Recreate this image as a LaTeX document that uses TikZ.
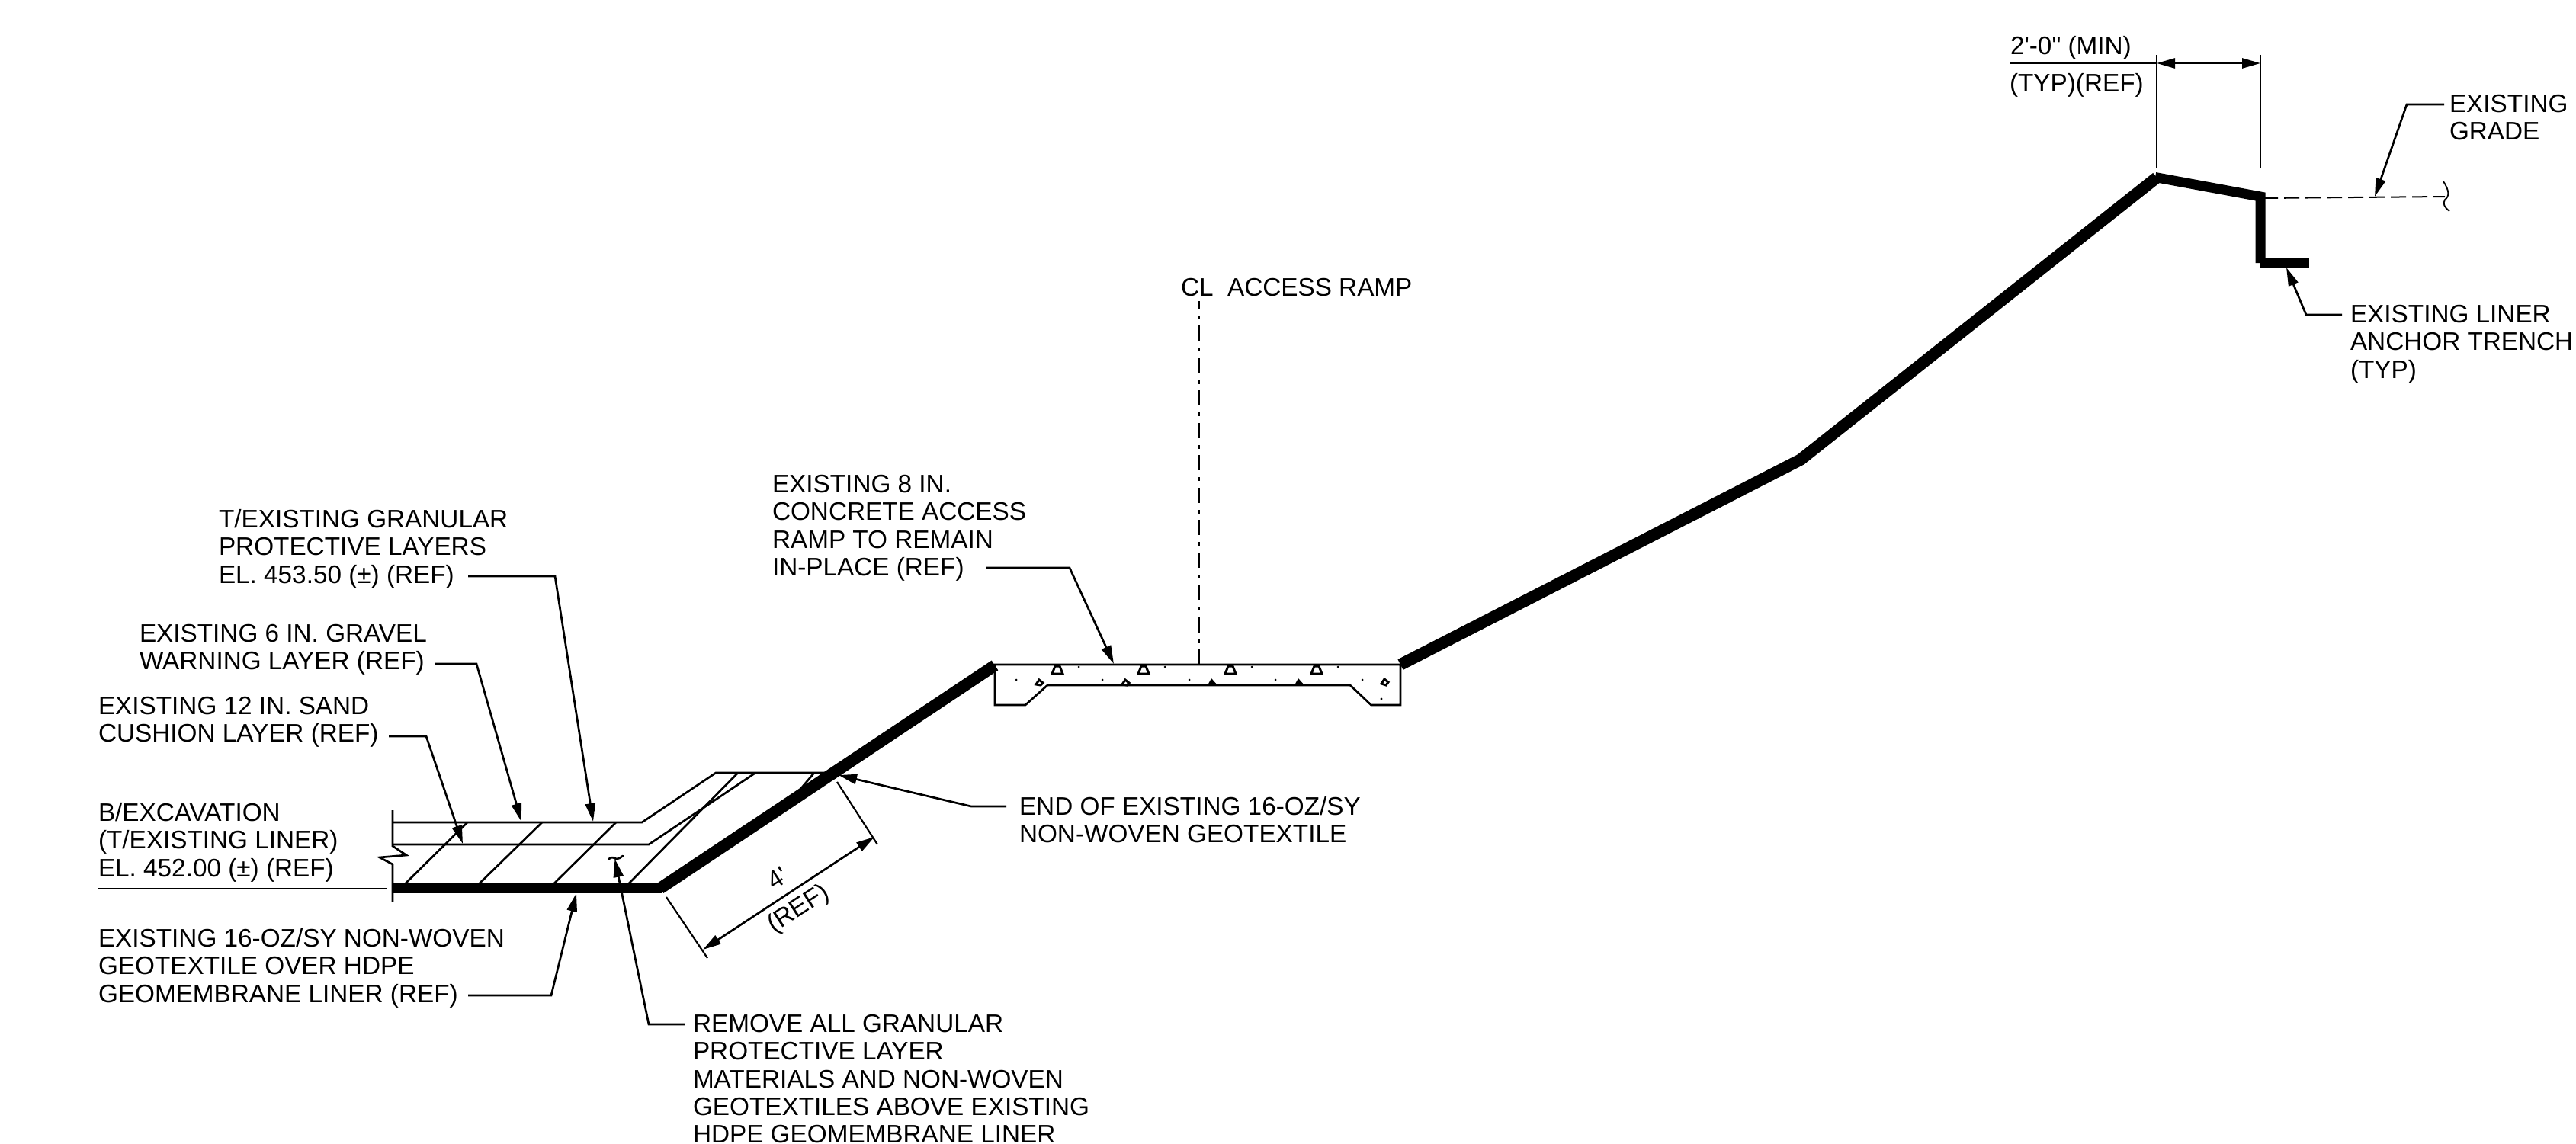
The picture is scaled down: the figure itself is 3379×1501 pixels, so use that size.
\documentclass[tikz,border=0pt]{standalone}
\usepackage{fontspec}
\newfontfamily\drawfont{Liberation Sans}
\usetikzlibrary{arrows.meta}
\tikzset{
  x=1pt,y=-1pt,
  note/.style={inner sep=0pt,outer sep=0pt,anchor=north west,yshift=23.5pt,align=left,
    font=\drawfont\fontsize{33.3}{36.2}\selectfont,execute at begin node={\rule{0pt}{24pt}}},
  dimtxt/.style={inner sep=0pt,outer sep=0pt,font=\drawfont\fontsize{33.3}{36.2}\selectfont,rotate=33},
  baseliner/.style={line width=13pt,line join=miter,line cap=butt},
  slopeliner/.style={line width=15.5pt,line join=miter,line cap=butt},
  fine/.style={line width=2.7pt,line join=miter},
  lead/.style={line width=2.7pt,line join=miter,-{Stealth[length=24pt,width=13pt,inset=0pt]}},
  dimline/.style={line width=2.7pt,{Stealth[length=24pt,width=13pt,inset=0pt]}-{Stealth[length=24pt,width=13pt,inset=0pt]}},
  ext/.style={line width=2.2pt},
  tri/.style={line width=3pt,fill=white},
  dotmark/.style={fill=black,draw=none}
}
\begin{document}
\begin{tikzpicture}
\useasboundingbox (0,0) rectangle (3379,1501);

% notes
\node[note] (ngran) at (287,692) {T/EXISTING GRANULAR\\PROTECTIVE LAYERS\\EL. 453.50 (±) (REF)};
\node[note] (ngrav) at (183,843) {EXISTING 6 IN. GRAVEL\\WARNING LAYER (REF)};
\node[note] (nsand) at (129,938) {EXISTING 12 IN. SAND\\CUSHION LAYER (REF)};
\node[note] (nexc) at (129,1077) {B/EXCAVATION\\(T/EXISTING LINER)\\EL. 452.00 (±) (REF)};
\node[note] (ngeo) at (129,1242) {EXISTING 16-OZ/SY NON-WOVEN\\GEOTEXTILE OVER HDPE\\GEOMEMBRANE LINER (REF)};
\node[note] (nrem) at (909,1355) {REMOVE ALL GRANULAR\\PROTECTIVE LAYER\\MATERIALS AND NON-WOVEN\\GEOTEXTILES ABOVE EXISTING\\HDPE GEOMEMBRANE LINER};
\node[note] (nramp) at (1013,647) {EXISTING 8 IN.\\CONCRETE ACCESS\\RAMP TO REMAIN\\IN-PLACE (REF)};
\node[note] (nend) at (1337,1069) {END OF EXISTING 16-OZ/SY\\NON-WOVEN GEOTEXTILE};
\node[note] (ncl) at (1549,388) {CL\ \ ACCESS RAMP};
\node[note] (nmin) at (2637,71) {2'-0" (MIN)};
\node[note] (ntyp) at (2636,120) {(TYP)(REF)};
\node[note] (ngrade) at (3213,148) {EXISTING\\GRADE};
\node[note] (ntrench) at (3083,424) {EXISTING LINER\\ANCHOR TRENCH\\(TYP)};
\node[dimtxt] (nfour) at (1020,1152) {4'};
\node[dimtxt] (nrefd) at (1048,1193) {(REF)};

% coordinates for connectors
\coordinate (a1) at (614,756); \coordinate (a2) at (728,756); \coordinate (a3) at (778,1078);
\coordinate (b1) at (571,871); \coordinate (b2) at (625,871); \coordinate (b3) at (684,1078);
\coordinate (c1) at (510,966); \coordinate (c2) at (559,966); \coordinate (c3) at (607,1107);
\coordinate (d1) at (129,1166); \coordinate (d2) at (507,1166);
\coordinate (e1) at (614,1306); \coordinate (e2) at (723,1306); \coordinate (e3) at (756,1172);
\coordinate (f1) at (898,1344); \coordinate (f2) at (851,1344); \coordinate (f3) at (806.5,1127);
\coordinate (g1) at (1293,745); \coordinate (g2) at (1403,745); \coordinate (g3) at (1461,871);
\coordinate (h0) at (1320,1058); \coordinate (h1) at (1274,1058); \coordinate (h2) at (1100,1017);
\coordinate (i1) at (3206,137); \coordinate (i2) at (3157,137); \coordinate (i3) at (3115,258);
\coordinate (j1) at (3072,413); \coordinate (j2) at (3025,413); \coordinate (j3) at (2999,351);
\coordinate (cl1) at (1572,872); \coordinate (cl2) at (1572,395);

% layers
\draw[fine] (515,1079) -- (842,1079) -- (939,1014) -- (1086,1014);
\draw[fine] (515,1108) -- (851,1108) -- (991,1014);
\draw[fine] (532,1159) -- (613,1079);
\draw[fine] (629,1159) -- (711,1079);
\draw[fine] (727,1159) -- (808,1079);
\draw[fine] (825,1159) -- (968,1014);
\draw[fine] (1036,1052) -- (1068,1014);
\draw[fine] (515,1063) -- (515,1110) -- (533,1122) -- (498,1125) -- (515,1134) -- (515,1183);
\draw[fine,line cap=round] (798,1128) .. controls (803,1122) and (806,1127) .. (809,1127) .. controls (812,1127) and (814,1125) .. (817,1123);

% ramp
\draw[fine] (1305,872) -- (1837,872) -- (1837,925) -- (1798.5,925) -- (1771,899) -- (1374,899) -- (1345,925) -- (1305,925) -- cycle;
\foreach \tx in {1387,1500,1614,1727}
  \draw[tri] (\tx-3,874) -- (\tx+3,874) -- (\tx+7,884) -- (\tx-7,884) -- cycle;
\foreach \tx in {1363,1476}
  \draw[tri] (\tx,892) -- (\tx+5,896) -- (\tx+2,899) -- (\tx-4,898) -- cycle;
\foreach \tx in {1590,1704}
  \fill (\tx-1,890) -- (\tx+7,899) -- (\tx-6,899) -- cycle;
\draw[tri] (1816,891) -- (1821,895) -- (1818,899) -- (1812,897) -- cycle;
\foreach \tx in {1415,1528,1642,1755} \fill[dotmark] (\tx,875) circle (1.5);
\foreach \tx in {1333,1446,1560,1673,1787} \fill[dotmark] (\tx,892) circle (1.5);
\fill[dotmark] (1812,917) circle (1.6);

% thick liner
\draw[baseliner] (515,1165.5) -- (869,1165.5);
\draw[slopeliner] (866,1165.5) -- (1305,873);
\draw[slopeliner] (1837,872) -- (2362,603) -- (2829,233);
\draw[baseliner] (2827,232.5) -- (2965,258) -- (2965,345);
\draw[baseliner] (2965,344.5) -- (3029,344.5);

% grade
\draw[line width=2pt,dash pattern=on 20pt off 8pt] (2968,260) -- (3207,258);
\draw[line width=1.8pt] (3205,238) .. controls (3213,250) and (3213,258) .. (3207,262) .. controls (3204,267) and (3206,272) .. (3213,277);

% connectors
\draw[lead] (a1) -- (a2) -- (a3);
\draw[lead] (b1) -- (b2) -- (b3);
\draw[lead] (c1) -- (c2) -- (c3);
\draw[fine] (d1) -- (d2);
\draw[lead] (e1) -- (e2) -- (e3);
\draw[lead] (f1) -- (f2) -- (f3);
\draw[lead] (g1) -- (g2) -- (g3);
\draw[lead] (h0) -- (h1) -- (h2);
\draw[lead] (i1) -- (i2) -- (i3);
\draw[lead] (j1) -- (j2) -- (j3);
\draw[line width=3pt,dash pattern=on 20pt off 8.5pt on 5pt off 9pt] (cl1) -- (cl2);

% dimension 2'-0"
\coordinate (p1) at (2829,72); \coordinate (p2) at (2829,220);
\coordinate (q1) at (2965,72); \coordinate (q2) at (2965,220);
\draw[ext] (p1) -- (p2);
\draw[ext] (q1) -- (q2);
\coordinate (m0) at (2637,83); \coordinate (m1) at (2829,83); \coordinate (m2) at (2965,83);
\draw[fine] (m0) -- (m1);
\draw[dimline] (m1) -- (m2);

% dimension 4'
\coordinate (r1) at (874,1177); \coordinate (r2) at (928,1257);
\coordinate (s1) at (1098,1026); \coordinate (s2) at (1151,1108);
\draw[ext] (r1) -- (r2);
\draw[ext] (s1) -- (s2);
\coordinate (t1) at (922,1246); \coordinate (t2) at (1147,1098);
\draw[dimline] (t1) -- (t2);
\end{tikzpicture}
\end{document}
